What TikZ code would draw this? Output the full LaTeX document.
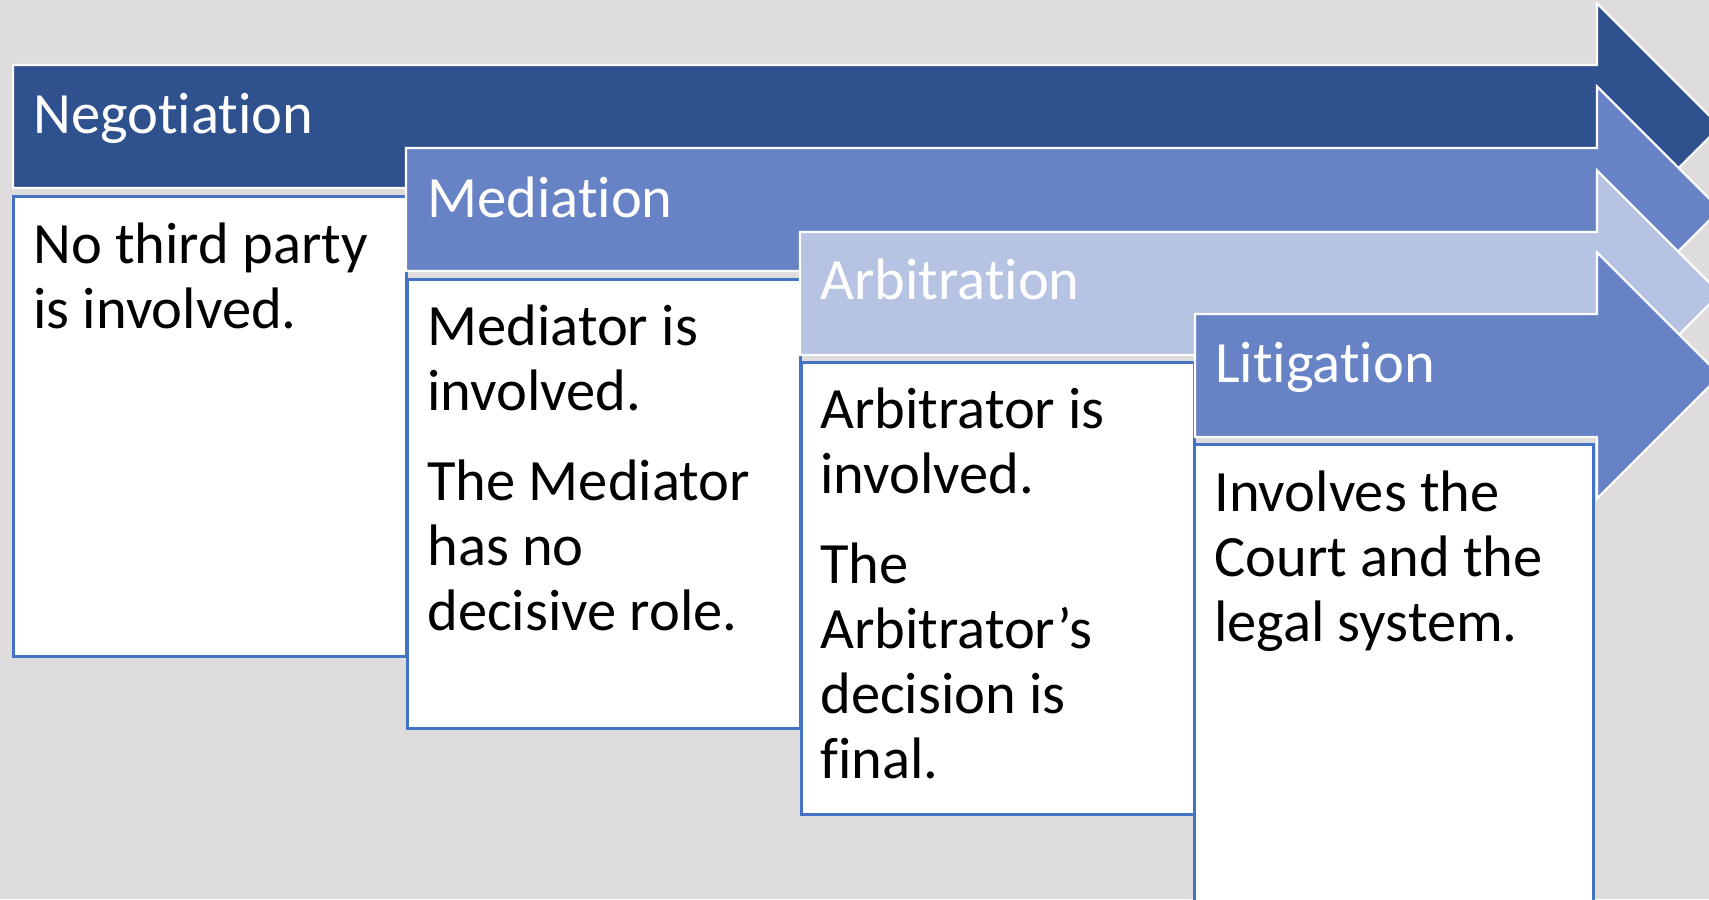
\documentclass[tikz,border=0pt]{standalone}
\usepackage{fontspec}
\setmainfont{Carlito}[Ligatures=NoCommon]
\usetikzlibrary{positioning}

\definecolor{bggray}{HTML}{DEDCDD}
\definecolor{negblue}{HTML}{2F528F}
\definecolor{medblue}{HTML}{6783C5}
\definecolor{arbblue}{HTML}{B7C3E2}
\definecolor{boxline}{HTML}{4472C4}

% header arrow: left x, top y, fill colour (pixel units, y down)
\newcommand{\headarrow}[3]{%
    \fill[#3, draw=white, line width=1.2pt]
        (#1,#2) -- (1597,#2) -- (1597,#2-61.5) -- (1720,#2+61.5)
        -- (1597,#2+184.5) -- (1597,#2+123) -- (#1,#2+123) -- cycle;}

\begin{document}
\begin{tikzpicture}[x=0.02cm, y=-0.02cm]
    \tikzstyle{header} = [anchor=base west, inner sep=0pt, text=white, font=\fontsize{33.3}{37}\selectfont]
    \tikzstyle{body} = [anchor=north west, inner sep=0pt, align=left, text=black, font=\fontsize{33.3}{37}\selectfont, execute at begin node=\strut]
    \tikzstyle{stepbox} = [draw=boxline, line width=1.6pt, fill=white, anchor=north west, minimum width=7.86cm, inner sep=0pt]

    \useasboundingbox[fill=bggray] (0,0) rectangle (1709,899);
    \clip (0,0) rectangle (1709,899);

    % Negotiation
    \headarrow{13}{65}{negblue}
    \node[header] (neg) at (33,133) {Negotiation};
    \node[stepbox, minimum height=9.2cm] (negbox) at (12,195) {};
    \node[body] (negtext) at ([shift={(21,28)}]negbox.north west) {No third party\\is involved.};

    % Mediation
    \headarrow{406}{148}{medblue}
    \node[header] (med) at (427,217) {Mediation};
    \node[stepbox, minimum height=8.98cm] (medbox) at (406,278) {};
    \node[body] (medtext) at ([shift={(21,26.5)}]medbox.north west) {Mediator is\\involved.\\[14pt]The Mediator\\has no\\decisive role.};

    % Arbitration
    \headarrow{800}{232}{arbblue}
    \node[header] (arb) at (820,299) {Arbitration};
    \node[stepbox, minimum height=9.04cm] (arbbox) at (800,361) {};
    \node[body] (arbtext) at ([shift={(20,26.5)}]arbbox.north west) {Arbitrator is\\involved.\\[14pt]The\\Arbitrator’s\\decision is\\final.};

    % Litigation
    \headarrow{1195}{314}{medblue}
    \node[header] (lit) at (1215,382) {Litigation};
    \node[stepbox, minimum width=7.98cm, minimum height=9.6cm] (litbox) at (1193,443) {};
    \node[body] (littext) at ([shift={(21,28)}]litbox.north west) {Involves the\\Court and the\\legal system.};
\end{tikzpicture}
\end{document}
